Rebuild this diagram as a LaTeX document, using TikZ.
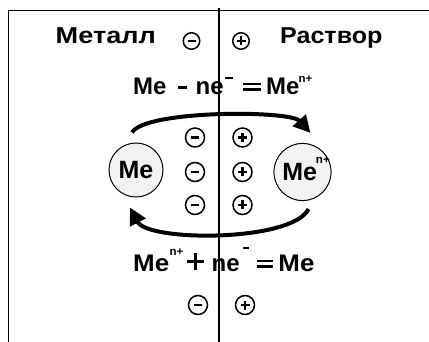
\documentclass[tikz,border=0pt]{standalone}
\usepackage{fontspec}
\setmainfont{Liberation Sans}
\usetikzlibrary{arrows.meta}
\tikzset{
  lbl/.style={font=\fontsize{23}{25}\selectfont\bfseries, inner sep=0pt, anchor=base west},
  eqlbl/.style={font=\fontsize{24}{26}\selectfont\bfseries, inner sep=0pt, anchor=base west},
  chg/.style={circle, draw, line width=1.5pt, minimum size=19pt, inner sep=0pt},
  smallchg/.style={chg, minimum size=16.5pt},
  atom/.style={circle, draw, line width=1pt, fill=black!5, minimum size=54pt, inner sep=0pt, font=\fontsize{25}{27}\selectfont\bfseries},
  bigarrow/.style={line width=4pt, -{Triangle[length=17pt,width=17pt]}},
  frameline/.style={line width=0.9pt}
}
\newcommand{\minussign}{\tikz\draw[line width=2.2pt](0,0)--(8pt,0);}
\newcommand{\plussign}{\tikz{\draw[line width=2.2pt](0,0)--(9pt,0);\draw[line width=2.2pt](4.5pt,-4.5pt)--(4.5pt,4.5pt);}}
\newcommand{\putat}[2]{\rlap{\hspace{#1pt}#2}}
\newcommand{\eqsign}[1]{\rlap{\rule[4pt]{#1pt}{2.8pt}}\rule[9.5pt]{#1pt}{2.8pt}}
\newcommand{\bigplus}{\rlap{\rule[8.5pt]{17pt}{3.6pt}}\hspace{6.7pt}\rule[2pt]{3.6pt}{17pt}}
\newcommand{\npl}[1]{\raisebox{#1pt}{\fontsize{11.5}{11.5}\selectfont n+}}
\begin{document}
\begin{tikzpicture}[x=1pt,y=-1pt]
\useasboundingbox (0,0) rectangle (429,342);
% frame
\coordinate (tl) at (8,10);
\coordinate (tr) at (429,10);
\coordinate (bl) at (8,342);
\coordinate (vt) at (219,8);
\coordinate (vb) at (219,342);
\draw[frameline] (bl) -- (tl) -- (tr);
\draw[line width=1.1pt] (vt) -- (vb);
% header
\node[lbl] (metal) at (55.5,44) {\scalebox{1.18}[1]{Металл}};
\node[lbl] (sol) at (280,44) {\scalebox{1.09}[1]{Раствор}};
\node[smallchg] (m0) at (191.5,41) {\minussign};
\node[smallchg] (p0) at (241,41) {\plussign};
% equations
\node[eqlbl] (eq1) at (133,95) {\makebox[180pt][l]{\putat{0}{Me}\putat{45}{\rule[6pt]{9pt}{3pt}}\putat{62.5}{ne}\putat{92}{\rule[16pt]{8pt}{2.2pt}}\putat{110}{\eqsign{18}}\putat{133}{Me}\putat{165.5}{\npl{12}}}};
\node[eqlbl] (eq2) at (133,272) {\makebox[185pt][l]{\putat{0}{\scalebox{1.08}[1]{Me}}\putat{36.5}{\npl{17}}\putat{54}{\bigplus}\putat{78.5}{ne}\putat{110}{\rule[23pt]{6pt}{2.2pt}}\putat{124}{\eqsign{16}}\putat{145.3}{\scalebox{1.08}[1]{Me}}}};
% charge columns
\node[chg] (m1) at (195,137.5) {\minussign};
\node[chg] (m2) at (195,172) {\minussign};
\node[chg] (m3) at (195,205) {\minussign};
\node[chg] (p1) at (242.5,137.5) {\plussign};
\node[chg] (p2) at (242.5,172) {\plussign};
\node[chg] (p3) at (242.5,205) {\plussign};
\node[chg] (m4) at (198,305) {\minussign};
\node[chg] (p4) at (245,305) {\plussign};
% atoms
\node[atom] (meL) at (136,170) {Me};
\node[atom] (meR) at (302.5,172) {\hspace{7pt}Me\hspace{-1pt}\smash{\npl{17}}};
% arrows
\draw[bigarrow] ([shift={(-4pt,10pt)}]meL.north) .. controls (145,110) and (290,110) .. ([shift={(8pt,10pt)}]meR.north);
\draw[bigarrow] ([shift={(6pt,-8pt)}]meR.south) .. controls (292,242) and (148,242) .. ([shift={(-6pt,-10pt)}]meL.south);
\end{tikzpicture}
\end{document}
